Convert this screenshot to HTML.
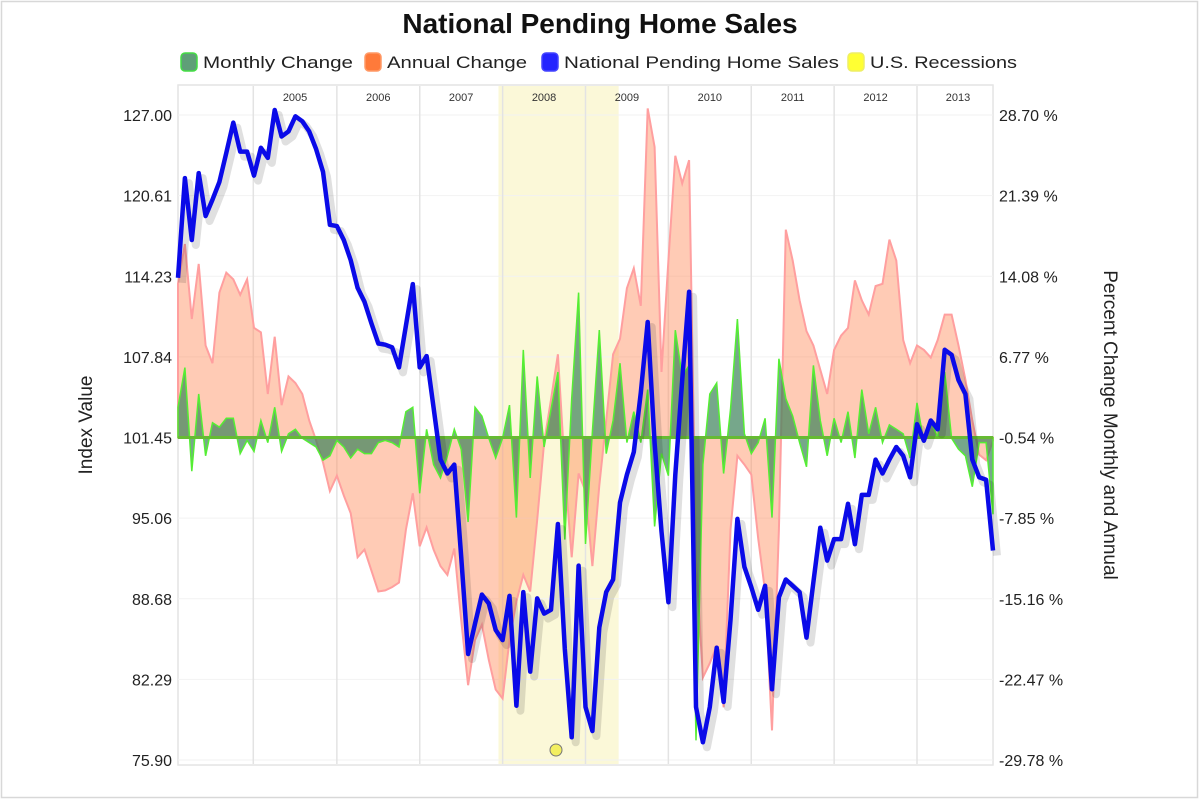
<!DOCTYPE html>
<html><head><meta charset="utf-8"><style>
html,body{margin:0;padding:0;background:#fff;}
#wrap{position:relative;width:1200px;height:799px;overflow:hidden;font-family:"Liberation Sans",sans-serif;}
</style></head><body>
<div id="wrap">
<svg id="chart" width="1200" height="799" xmlns="http://www.w3.org/2000/svg"></svg>
</div>
<script>
const years = ["2005","2006","2007","2008","2009","2010","2011","2012","2013"];
const yearStartMonth = [10.9,23,35,47,59,71,83,95,107];
const recessionStart = 46.4;
const recessionEnd = 63.8;
const leftTicks = ["127.00","120.61","114.23","107.84","101.45","95.06","88.68","82.29","75.90"];
const rightTicks = ["28.70 %","21.39 %","14.08 %","6.77 %","-0.54 %","-7.85 %","-15.16 %","-22.47 %","-29.78 %"];
const indexValues = [114.1,122.0,117.1,122.4,119.0,120.3,121.7,124.0,126.4,124.1,124.1,122.2,124.4,123.6,127.4,125.3,125.7,126.9,126.5,125.7,124.3,122.5,118.3,118.2,117.1,115.5,113.3,112.2,110.5,108.9,108.8,108.6,107.0,110.3,113.6,107.0,107.9,103.8,99.7,98.6,99.3,92.0,84.3,86.7,89.0,88.3,86.2,85.4,88.9,80.2,89.2,82.9,88.7,87.5,87.8,94.6,84.7,77.7,91.3,80.1,78.2,86.4,89.2,90.2,96.3,98.5,100.3,105.0,110.6,101.0,94.0,88.4,98.5,106.0,113.0,80.1,77.3,80.1,84.8,80.5,87.0,95.0,91.2,89.6,87.8,89.7,81.5,88.8,90.2,89.7,89.2,85.6,90.0,94.3,91.7,93.4,93.4,96.2,93.0,96.9,96.9,99.7,98.6,99.7,100.7,100.0,98.3,102.5,101.2,102.8,102.1,108.4,108.0,106.0,104.9,99.7,98.3,98.1,92.5];
const annualChange = [13.4,17.0,10.2,15.2,7.8,6.2,12.6,14.4,13.8,12.4,13.8,9.4,9.0,3.4,8.6,2.4,5.0,4.4,3.4,1.0,-0.8,-2.8,-5.4,-4.0,-5.8,-7.4,-11.4,-10.7,-12.6,-14.5,-14.4,-14.1,-13.7,-8.9,-5.6,-10.4,-8.7,-10.7,-12.2,-13.0,-10.6,-17.1,-23.0,-18.9,-17.5,-20.7,-23.4,-24.2,-18.9,-15.4,-13.0,-14.5,-8.0,-1.0,2.9,7.0,-3.4,-11.4,-3.8,-5.4,-12.2,-4.9,1.0,7.0,8.4,13.0,14.8,11.4,29.3,25.8,5.4,15.5,25.0,22.5,24.6,-11.6,-22.3,-21.0,-19.4,-25.0,-8.9,-2.2,-3.0,-3.9,-9.7,-14.5,-27.1,-8.9,18.3,15.5,11.9,9.1,7.8,5.6,3.4,7.4,8.7,9.4,13.7,11.9,10.6,13.2,13.4,17.4,15.5,8.3,6.2,7.8,7.4,6.7,8.3,10.6,10.6,7.8,4.7,1.0,-2.1,-2.6,-0.8];
const monthlyChange = [2.2,5.8,-3.6,3.4,-2.2,0.8,0.4,1.2,1.2,-2.0,-0.8,-1.8,1.0,-1.0,2.2,-1.8,-0.2,0.2,-0.6,-1.0,-1.4,-2.6,-2.2,-0.8,-1.4,-2.4,-1.6,-2.0,-2.0,-1.0,-0.8,-1.0,-1.4,1.8,2.2,-5.6,0.2,-3.0,-4.2,-2.2,0.2,-1.6,-8.2,2.2,1.4,-0.6,-2.4,-0.6,2.4,-7.8,7.4,-4.2,5.0,-1.4,2.0,5.4,-9.8,3.0,12.6,-10.2,0.0,9.2,-2.0,1.0,6.2,-1.0,1.8,-1.0,3.8,-8.6,-2.0,-4.0,9.2,5.0,6.0,-28.0,-3.0,3.4,4.4,-3.8,2.0,10.2,-0.2,-2.0,-1.0,1.2,-7.8,6.6,3.0,1.4,-1.0,-3.2,6.0,1.0,-2.2,1.2,-1.0,1.8,-2.4,3.8,-0.2,2.2,-1.0,0.6,0.2,-0.2,-2.4,2.6,-1.0,1.0,-0.6,5.4,-0.6,-1.6,-2.2,-5.0,-1.0,-1.0,-7.5];

const NS="http://www.w3.org/2000/svg";
const svg=document.getElementById('chart');
const X0=178,X1=993,YT=115,YB=760;
const nMonths=indexValues.length-1;
function xScale(m){return X0+(X1-X0)*m/nMonths;}
function yLeft(v){return YT+(127.0-v)*(YB-YT)/(127.0-75.90);}
function yRight(p){return YT+(28.70-p)*(YB-YT)/(28.70+29.78);}
function mk(tag,attrs,parent){const e=document.createElementNS(NS,tag);for(const k in attrs)e.setAttribute(k,attrs[k]);(parent||svg).appendChild(e);return e;}

let frame=mk('rect',{x:1.5,y:1.5,width:1196,height:796,fill:'none',stroke:'#d8d8d8','stroke-width':1.5});


let pb=mk('rect',{x:X0,y:85,width:X1-X0,height:680,fill:'#fff',stroke:'#e4e4e4','stroke-width':1.5});



let rb=mk('rect',{x:xScale(recessionStart),y:86,width:xScale(recessionEnd)-xScale(recessionStart),height:678,fill:'#fbf8d8'});



leftTicks.forEach((t,i)=>{
  const y=YT+i*(YB-YT)/8;
  const g=mk('line',{x1:X0,x2:X1,y1:y,y2:y,stroke:'#f2f2f2','stroke-width':1});
  
  
  const lt=mk('text',{x:172,y:y+6,'text-anchor':'end','font-size':16,fill:'#222'});
  lt.textContent=t;
  
  
  const rt=mk('text',{x:999,y:y+6,'text-anchor':'start','font-size':16,fill:'#222'});
  rt.textContent=rightTicks[i];
  
  
});
years.forEach((yr,i)=>{
  const x=xScale(yearStartMonth[i]);
  const l=mk('line',{x1:x,x2:x,y1:86,y2:764,stroke:'#e3e3e3','stroke-width':1.5});
  
  
  const nx=i<years.length-1?xScale(yearStartMonth[i+1]):x+82;
  const t=mk('text',{x:(x+nx)/2,y:101,'text-anchor':'middle','font-size':11,fill:'#333'});
  t.textContent=yr;
  
  
});

const baseY=yRight(-0.54);
function areaPath(vals){
  let d='M'+xScale(0)+','+baseY;
  vals.forEach((v,i)=>{d+=' L'+xScale(i).toFixed(1)+','+yRight(v).toFixed(1);});
  d+=' L'+xScale(vals.length-1)+','+baseY+' Z';return d;
}
function linePath(vals,fy){return vals.map((v,i)=>(i?'L':'M')+xScale(i).toFixed(1)+','+fy(v).toFixed(1)).join(' ');}

let an=mk('path',{d:areaPath(annualChange),fill:'rgba(255,140,90,0.45)',stroke:'#ff9f9f','stroke-width':2});


let mo=mk('path',{d:areaPath(monthlyChange),fill:'rgba(60,130,90,0.7)',stroke:'#55ee33','stroke-width':1.5});


let bl=mk('line',{x1:X0,x2:X1,y1:baseY,y2:baseY,stroke:'#66bb33','stroke-width':3});



let sh=mk('path',{d:linePath(indexValues,yLeft),fill:'none',stroke:'rgba(0,0,0,0.12)','stroke-width':8,transform:'translate(4,5)','stroke-linejoin':'round'});


let ln=mk('path',{d:linePath(indexValues,yLeft),fill:'none',stroke:'#0a0ae8','stroke-width':4.5,'stroke-linejoin':'round'});



let mc=mk('circle',{cx:556,cy:750,r:6,fill:'#f3ef60',stroke:'#777','stroke-width':1});



let ti=mk('text',{x:600,y:33,'text-anchor':'middle','font-size':28,'font-weight':'bold',fill:'#111'});
ti.textContent='National Pending Home Sales';



const legendLabels=['Monthly Change','Annual Change','National Pending Home Sales','U.S. Recessions'];
const legendFill=['#5f9f78','#ff7a3a','#2525ff','#ffff33'];
const legendStroke=['#44dd44','#ff9966','#4444ff','#eeee66'];
const legendX=[181,365,542,848];
const legendW=[150,140,275,147];
legendLabels.forEach((lab,i)=>{
  const g=mk('g',{});
  
  
  mk('rect',{x:legendX[i],y:53,width:16,height:18,rx:4,fill:legendFill[i],stroke:legendStroke[i],'stroke-width':1.5},g);
  const t=mk('text',{x:legendX[i]+22,y:68,'font-size':17,fill:'#222',textLength:legendW[i],lengthAdjust:'spacingAndGlyphs'},g);
  t.textContent=lab;
});

let at=mk('text',{x:0,y:0,'font-size':19,fill:'#222','text-anchor':'middle',transform:'translate(92,425) rotate(-90)'});
at.textContent='Index Value';


let ar=mk('text',{x:0,y:0,'font-size':19,fill:'#222','text-anchor':'middle',transform:'translate(1104,425) rotate(90)'});
ar.textContent='Percent Change Monthly and Annual';


</script>
</body></html>
